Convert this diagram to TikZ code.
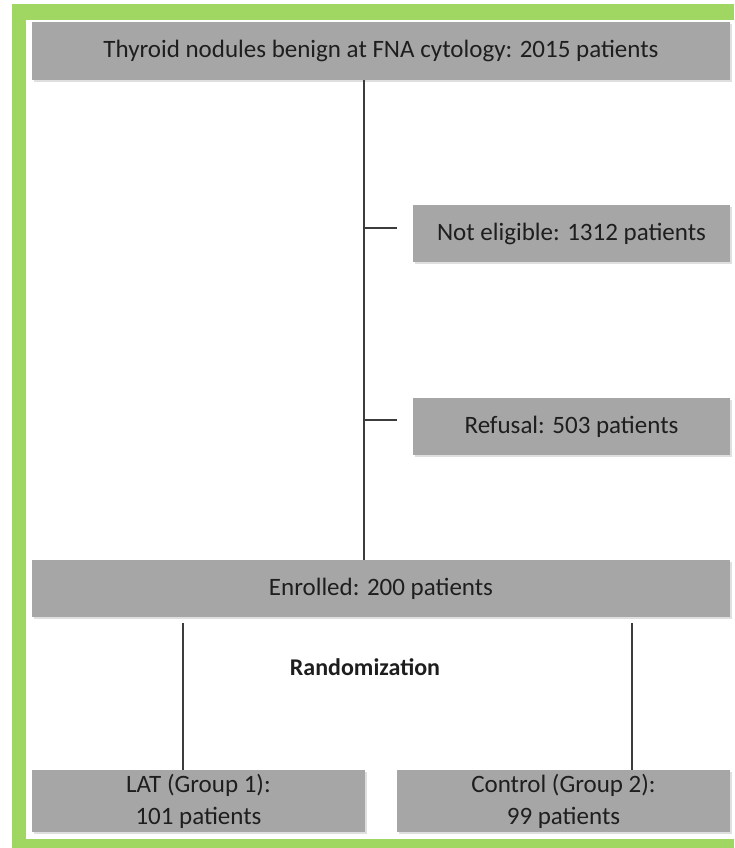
\documentclass[tikz,border=0pt]{standalone}
\usepackage{fontspec}
\setmainfont{Carlito}
\usetikzlibrary{shadows}

\definecolor{framegreen}{RGB}{160,214,98}
\definecolor{boxgray}{RGB}{166,166,166}
\definecolor{linegray}{RGB}{60,60,60}
\definecolor{textgray}{RGB}{30,30,30}

\tikzset{
  flowbox/.style={fill=boxgray, text=textgray, inner sep=0pt, align=center, font=\fontsize{25}{32}\selectfont,
    drop shadow={opacity=0.25, shadow xshift=1.5pt, shadow yshift=-2pt}},
  connector/.style={draw=linegray, line width=2pt}
}

\begin{document}
\begin{tikzpicture}[x=1pt,y=-1pt]
  \useasboundingbox (0,0) rectangle (734,848);

  % green frame
  \fill[framegreen] (12,4) rectangle (734,20);
  \fill[framegreen] (12,4) rectangle (26,848);
  \fill[framegreen] (12,839) rectangle (734,848);

  % Text Node
  \node[flowbox, minimum width=698pt, minimum height=58pt] (thyroid) at (381,51) {Thyroid nodules benign at FNA cytology: 2015 patients};
  % Text Node
  \node[flowbox, minimum width=317pt, minimum height=57pt] (noteligible) at (571.5,233.5) {Not eligible: 1312 patients};
  % Text Node
  \node[flowbox, minimum width=317pt, minimum height=57pt] (refusal) at (571.5,426.5) {Refusal: 503 patients};
  % Text Node
  \node[flowbox, minimum width=698pt, minimum height=57pt] (enrolled) at (381,588.5) {Enrolled: 200 patients};
  % Text Node
  \node[flowbox, minimum width=333pt, minimum height=62pt] (lat) at (198.5,801) {LAT (Group 1):\\101 patients};
  % Text Node
  \node[flowbox, minimum width=333pt, minimum height=62pt] (control) at (563.5,801) {Control (Group 2):\\99 patients};
  % Text Node
  \node[text=textgray, font=\fontsize{24}{28}\selectfont\bfseries] (random) at (365,667) {Randomization};

  % branch positions
  \coordinate (trunk) at (364,0);
  \coordinate (leftbranch) at (183,0);
  \coordinate (rightbranch) at (632,0);

  %Straight Lines
  \draw[connector] (thyroid.south -| trunk) -- (enrolled.north -| trunk);
  \draw[connector] ([yshift=6pt]noteligible.west -| trunk) -- ([xshift=-16pt,yshift=6pt]noteligible.west);
  \draw[connector] ([yshift=7pt]refusal.west -| trunk) -- ([xshift=-16pt,yshift=7pt]refusal.west);
  \draw[connector] ([yshift=-6pt]enrolled.south -| leftbranch) -- (lat.north -| leftbranch);
  \draw[connector] ([yshift=-6pt]enrolled.south -| rightbranch) -- (control.north -| rightbranch);

\end{tikzpicture}
\end{document}
